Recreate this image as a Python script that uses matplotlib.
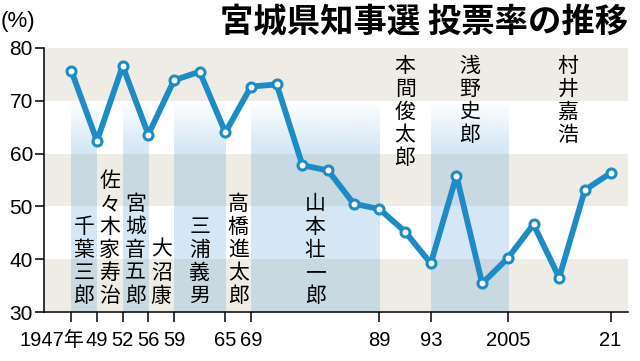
import numpy as np
import matplotlib
matplotlib.use('Agg')
import matplotlib.pyplot as plt
from matplotlib.colors import to_rgb

# ---- data ----
turnout = [75.7, 62.4, 76.6, 63.6, 73.9, 75.5, 64.0, 72.7, 73.1, 57.8, 56.8, 50.5,
           49.5, 45.2, 39.2, 55.8, 35.4, 40.2, 46.6, 36.5, 53.1, 56.3]
tick_idx = [0, 1, 2, 3, 4, 6, 7, 12, 14, 17, 21]
tick_labels = ['1947年', '49', '52', '56', '59', '65', '69', '89', '93', '2005', '21']
governors = ['千葉三郎', '佐々木家寿治', '宮城音五郎', '大沼康', '三浦義男', '高橋進太郎',
             '山本壮一郎', '本間俊太郎', '浅野史郎', '村井嘉浩']
gov_start = [0, 1, 2, 3, 4, 6, 7, 12, 14, 17]
y_ticks = [30, 40, 50, 60, 70, 80]
title = '宮城県知事選 投票率の推移'
unit = '(%)'

# ---- style ----
NUM_FONT = ['Liberation Sans', 'Noto Sans CJK JP']
JP_FONT = ['Noto Sans CJK JP', 'DejaVu Sans']
LINE_C = '#1d8cc6'
BEIGE = '#eeece5'
W, H = 640, 361

fig = plt.figure(figsize=(W / 100, H / 100), dpi=100)
ax = fig.add_axes([44 / W, 1 - 312 / H, (628 - 44) / W, (312 - 48) / H])
ax.set_facecolor('white')

x = np.arange(len(turnout))
xmin, xmax = -1.063, 21.68

# horizontal bands
for lo in (30, 50, 70):
    ax.axhspan(lo, lo + 10, color=BEIGE, lw=0, zorder=0)

# governor columns (alternating blue gradient overlay)
ygrid = np.linspace(80, 30, 300)
alpha = 0.30 * np.clip((70 - ygrid) / 9.0, 0, 1)
rgb = np.array(to_rgb((115 / 255, 175 / 255, 222 / 255)))
grad = np.zeros((len(ygrid), 1, 4))
grad[:, 0, :3] = rgb
grad[:, 0, 3] = alpha
bounds = gov_start + [xmax]
for i, name in enumerate(governors):
    x0, x1 = bounds[i], bounds[i + 1]
    if i % 2 == 0:
        ax.imshow(grad, extent=(x0, x1, 30, 80), aspect='auto', origin='upper',
                  interpolation='bilinear', zorder=1)
    cx = (x0 + x1) / 2
    if i >= 7:
        ax.text(cx, 78.7, '\n'.join(name), ha='center', va='top', fontsize=15,
                linespacing=1.06, family=JP_FONT, zorder=2)
    else:
        ax.text(cx, 30.95, '\n'.join(name), ha='center', va='bottom', fontsize=15,
                linespacing=1.06, family=JP_FONT, zorder=2)

# line
ax.plot(x, turnout, color=LINE_C, lw=4.2, marker='o', ms=6.5, mfc='white',
        mec=LINE_C, mew=2.2, zorder=4, solid_joinstyle='round')

ax.set_xlim(xmin, xmax)
ax.set_ylim(30, 80)

# axes
for s in ('top', 'right'):
    ax.spines[s].set_visible(False)
for s in ('left', 'bottom'):
    ax.spines[s].set_linewidth(1.1)
    ax.spines[s].set_color('black')
    ax.spines[s].set_zorder(5)

ax.set_yticks(y_ticks)
ax.set_yticklabels([str(v) for v in y_ticks], family=NUM_FONT, fontsize=15)
ax.tick_params(axis='y', length=6.5, width=1.1, pad=1.5, direction='out')

XFS = 14.5
ax.set_xticks(tick_idx)
ax.set_xticklabels([''] + tick_labels[1:], family=NUM_FONT, fontsize=XFS)
ax.tick_params(axis='x', length=7, width=1.1, pad=7, direction='out')
ax.annotate(tick_labels[0], xy=(tick_idx[0], 0), xycoords=('data', 'axes fraction'),
            xytext=(9.5, -14), textcoords='offset points', ha='right', va='top',
            fontsize=XFS, family=NUM_FONT, annotation_clip=False)

fig.text(628 / W, 1 - 22 / H, title, ha='right', va='center', fontsize=24,
         fontweight='bold', family=JP_FONT)
fig.text(1 / W, 1 - 21 / H, unit, ha='left', va='center', fontsize=16, family=NUM_FONT)

fig.savefig('out.png', dpi=100)
